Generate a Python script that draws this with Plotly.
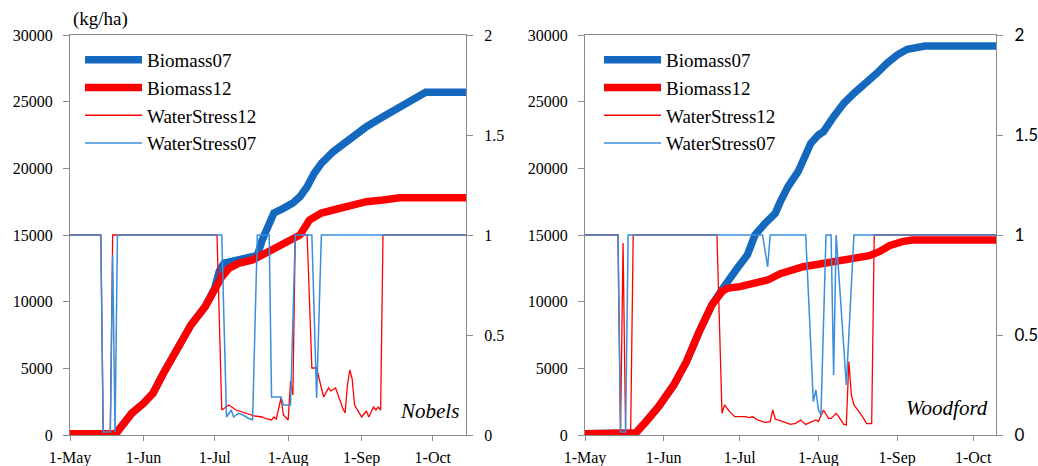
import plotly.graph_objects as go

YEAR = "2007-"

# ---------------- Nobels (left panel) ----------------
nob_bio07_dates = ["05-01","05-20","05-21","05-27","06-01","06-05","06-09","06-15","06-21","06-27",
                   "07-01","07-03","07-05","07-10","07-16","07-19","07-21","07-23","07-26","07-30",
                   "08-03","08-06","08-09","08-12","08-15","08-20","08-27","09-03","09-10","09-17",
                   "09-24","09-28","10-15"]
nob_bio07 = [100,100,250,1625,2375,3125,4500,6500,8250,9625,
             11000,12300,12900,13100,13300,13450,14600,15400,16650,17000,
             17400,17875,18625,19625,20375,21250,22250,23125,23875,24625,
             25375,25700,25700]

nob_bio12_dates = ["05-01","05-20","05-21","05-27","06-01","06-05","06-09","06-15","06-21","06-27",
                   "07-01","07-04","07-07","07-11","07-17","07-22","07-31","08-06","08-10","08-15",
                   "08-20","08-27","09-03","09-10","09-17","10-15"]
nob_bio12 = [100,100,250,1625,2375,3125,4500,6500,8250,9625,
             11000,11850,12500,12875,13125,13600,14300,15000,16125,16650,
             16875,17175,17500,17625,17800,17800]

nob_ws12_dates = ["05-01","05-14","05-15","05-18","05-19","07-02","07-04","07-07","07-10","07-14",
                  "07-18","07-21","07-23","07-25","07-26","07-27","07-29","07-30","08-01","08-02",
                  "08-03","08-04","08-09","08-11","08-13","08-15","08-16","08-18","08-19","08-21",
                  "08-22","08-24","08-25","08-26","08-27","08-28","08-29","08-31","09-01","09-03",
                  "09-04","09-06","09-07","09-08","09-09","09-10","10-15"]
nob_ws12 = [1,1,0.015,0.015,1,1,0.125,0.15,0.125,0.11,
            0.095,0.09,0.08,0.075,0.09,0.08,0.185,0.1,0.075,0.27,
            0.2,1,1,0.335,0.335,0.235,0.19,0.235,0.22,0.235,
            0.2,0.135,0.11,0.25,0.325,0.28,0.15,0.11,0.09,0.12,
            0.09,0.14,0.125,0.14,0.125,1,1]

nob_ws07_dates = ["05-01","05-14","05-15","05-18","05-19","05-20","05-21","07-04","07-06","07-08",
                  "07-09","07-11","07-13","07-15","07-17","07-19","07-24","07-25","07-29","07-30",
                  "08-02","08-04","08-11","08-13","08-15","10-15"]
nob_ws07 = [1,1,0.015,0.015,0.9,0.015,1,1,0.09,0.125,
            0.09,0.108,0.1,0.085,0.075,1,1,0.19,0.19,0.15,
            0.15,1,1,0.185,1,1]

# ---------------- Woodford (right panel) ----------------
wood_bio07_dates = ["05-01","05-20","05-21","05-25","05-30","06-05","06-10","06-15","06-20","06-24",
                    "06-26","06-30","07-04","07-07","07-11","07-15","07-17","07-20","07-24","07-27",
                    "07-29","08-01","08-03","08-07","08-11","08-15","08-20","08-24","08-28","09-01",
                    "09-05","09-09","09-12","10-10"]
wood_bio07 = [100,100,150,1000,2125,3750,5500,7750,9750,10900,
              11500,12500,13500,15000,15875,16625,17500,18625,19750,20875,
              21875,22500,22750,23875,24875,25625,26375,27125,27875,28500,
              28925,29125,29175,29175]

wood_bio12_dates = ["05-01","05-20","05-21","05-25","05-30","06-05","06-10","06-15","06-20","06-24",
                    "06-26","07-01","07-06","07-12","07-17","07-19","07-26","08-01","08-08","08-15",
                    "08-21","08-25","08-29","09-03","09-07","10-10"]
wood_bio12 = [100,100,150,1000,2125,3750,5500,7750,9750,10750,
              11000,11125,11375,11625,12100,12250,12625,12800,13050,13250,
              13450,13750,14200,14500,14625,14625]

wood_ws12_dates = ["05-01","05-14","05-15","05-16","05-17","05-19","05-20","06-22","06-24","06-25",
                   "06-27","06-29","07-03","07-05","07-06","07-08","07-11","07-13","07-14","07-15",
                   "07-18","07-21","07-23","07-25","07-27","07-31","08-01","08-03","08-05","08-06",
                   "08-08","08-09","08-11","08-12","08-13","08-14","08-15","08-18","08-20","08-22",
                   "08-23","10-10"]
wood_ws12 = [1,1,0.015,0.96,0.015,0.015,1,1,0.108,0.15,
             0.117,0.092,0.092,0.087,0.092,0.075,0.063,0.067,0.125,0.08,
             0.067,0.053,0.058,0.075,0.053,0.075,0.067,0.125,0.083,0.083,
             0.108,0.092,0.053,0.05,0.367,0.2,0.15,0.1,0.057,0.057,
             1,1]

wood_ws07_dates = ["05-01","05-14","05-15","05-17","05-18","07-10","07-12","07-13","07-27","07-30",
                   "07-31","08-01","08-02","08-04","08-06","08-07","08-08","08-12","08-15","10-10"]
wood_ws07 = [1,1,0.015,0.015,1,1,0.84,1,1,0.167,
             0.225,0.125,0.1,1,1,0.3,1,0.25,1,1]

# ---------------- axis text ----------------
month_ticks = ["05-01","06-01","07-01","08-01","09-01","10-01"]
bio_ticks = [0, 5000, 10000, 15000, 20000, 25000, 30000]
ws_ticks = [0, 0.5, 1, 1.5, 2]
ws_labels = ["0", "0.5", "1", "1.5", "2"]
panel_names = ["Nobels", "Woodford"]
series_names = ["Biomass07", "Biomass12", "WaterStress12", "WaterStress07"]


def dt(lst):
    return [YEAR + s for s in lst]


W, H = 1038, 466


def fx(px):
    return px / W


def fy(py):
    return (H - py) / H


BLUE_THICK = "#1468BE"
BLUE_THIN = "#3A8EDA"
RED = "#FF0000"
GRAY = "#8C8C8C"
SERIF = "Liberation Serif"

fig = go.Figure()

panels = [
    dict(x="x", yb="y", yw="y2", leg="legend",
         data=[(nob_bio07_dates, nob_bio07), (nob_bio12_dates, nob_bio12),
               (nob_ws12_dates, nob_ws12), (nob_ws07_dates, nob_ws07)]),
    dict(x="x2", yb="y3", yw="y4", leg="legend2",
         data=[(wood_bio07_dates, wood_bio07), (wood_bio12_dates, wood_bio12),
               (wood_ws12_dates, wood_ws12), (wood_ws07_dates, wood_ws07)]),
]
styles = [dict(color=BLUE_THICK, width=7.5), dict(color=RED, width=7.5),
          dict(color=RED, width=1.3), dict(color=BLUE_THIN, width=1.5)]

for p in panels:
    for i, (dts, vals) in enumerate(p["data"]):
        fig.add_trace(go.Scatter(
            x=dt(dts), y=vals, mode="lines", name=series_names[i],
            line=styles[i], xaxis=p["x"], yaxis=p["yb"] if i < 2 else p["yw"],
            legend=p["leg"], hoverinfo="skip"))

ydom = [fy(435), fy(35)]
common = dict(showline=True, linecolor=GRAY, linewidth=1, ticks="outside",
              tickcolor=GRAY, ticklen=6, showgrid=False, zeroline=False,
              automargin=False,
              tickfont=dict(family=SERIF, size=16, color="black"))

xcommon = dict(common, type="date", tickvals=dt(month_ticks), tickformat="%-d-%b",
               mirror=True, ticklen=5, ticklabelstandoff=3)
ybio = dict(common, range=[0, 30000], tickvals=bio_ticks, tickformat="d",
            ticklabelstandoff=7)
yws = dict(common, range=[0, 2], tickvals=ws_ticks, ticktext=ws_labels,
           side="right", ticklabelstandoff=8)

legend_common = dict(y=fy(41), xanchor="left", yanchor="top",
                     bgcolor="rgba(0,0,0,0)", font=dict(family=SERIF, size=19),
                     itemwidth=57, tracegroupgap=0)

fig.update_layout(
    width=W, height=H,
    autosize=False,
    margin=dict(l=0, r=0, t=0, b=0, pad=0, autoexpand=False),
    paper_bgcolor="white", plot_bgcolor="white",
    font=dict(family=SERIF, size=16, color="black"),
    xaxis=dict(xcommon, domain=[fx(70), fx(466)], anchor="y",
               range=[YEAR + "05-01", YEAR + "10-15"]),
    yaxis=dict(ybio, domain=ydom, anchor="x"),
    yaxis2=dict(yws, overlaying="y", anchor="x"),
    xaxis2=dict(xcommon, domain=[fx(585), fx(996)], anchor="y3",
                range=[YEAR + "05-01", YEAR + "10-10"]),
    yaxis3=dict(ybio, domain=ydom, anchor="x2"),
    yaxis4=dict(yws, overlaying="y3", anchor="x2",
                tickfont=dict(family="Lato", size=17, color="black")),
    legend=dict(legend_common, x=fx(80)),
    legend2=dict(legend_common, x=fx(599)),
    showlegend=True,
    annotations=[
        dict(text="(kg/ha)", x=fx(100), y=fy(19), xref="paper", yref="paper",
             xanchor="center", yanchor="middle", showarrow=False,
             font=dict(family=SERIF, size=19)),
        dict(text="<i>" + panel_names[0] + "</i>", x=fx(461), y=fy(411),
             xref="paper", yref="paper", xanchor="right", yanchor="middle",
             showarrow=False, font=dict(family=SERIF, size=21)),
        dict(text="<i>" + panel_names[1] + "</i>", x=fx(990), y=fy(408),
             xref="paper", yref="paper", xanchor="right", yanchor="middle",
             showarrow=False, font=dict(family=SERIF, size=21)),
    ],
)

# the page's default 8px body margin would push the 1038x466 figure out of the window
fig.write_html("out.html",
               config={"displayModeBar": False},
               post_script="document.body.style.margin='0px';"
                           "document.body.style.overflow='hidden';")
